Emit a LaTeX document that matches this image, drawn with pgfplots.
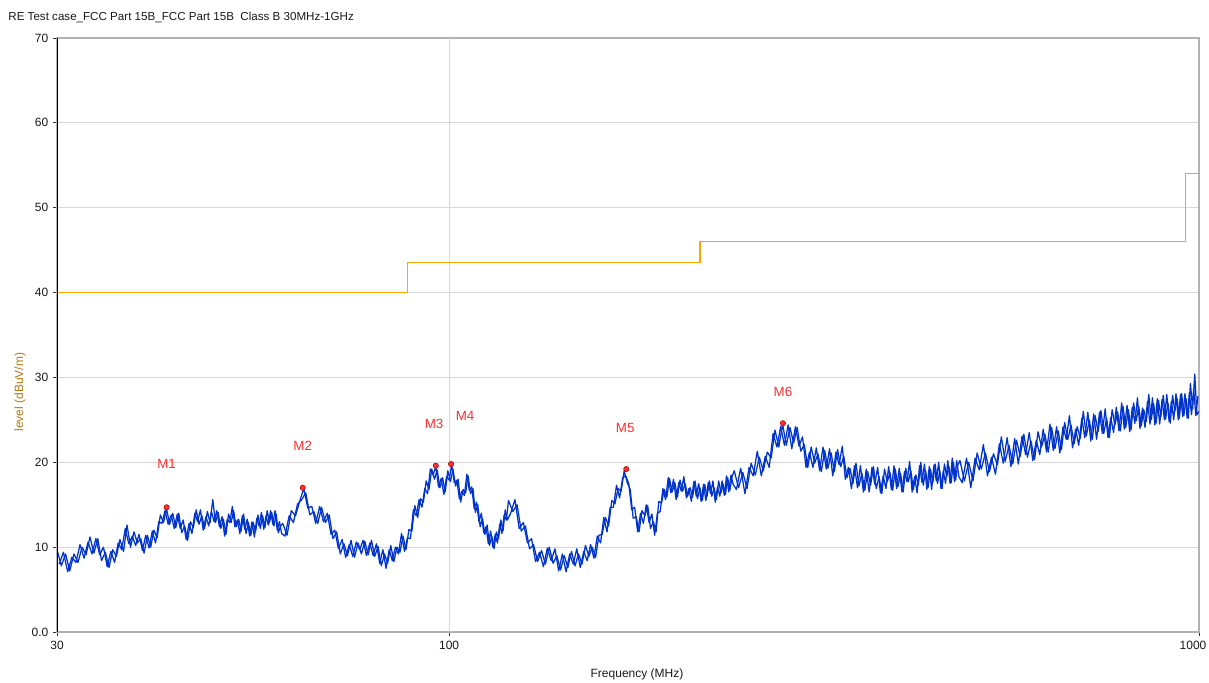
\documentclass[border=0pt]{standalone}
\usepackage{fontspec}
\setmainfont{Liberation Sans}
\usepackage{pgfplots}
\pgfplotsset{compat=1.18}
\definecolor{trace}{RGB}{0,51,204}
\definecolor{limitc}{RGB}{255,165,0}
\definecolor{gridc}{RGB}{215,215,215}
\definecolor{mkred}{RGB}{255,45,45}
\definecolor{ylab}{RGB}{180,120,20}
\pgfplotstableread{
f y
30.0 9.7
30.4 7.8
30.8 9.2
31.2 7.2
31.6 9.2
32.0 8.2
32.4 10.0
32.8 9.1
33.2 11.2
33.6 9.3
34.0 11.0
34.4 8.4
34.8 9.4
35.2 7.6
35.6 9.7
36.0 8.9
36.4 10.9
36.8 9.5
37.2 12.6
37.6 10.0
38.0 11.8
38.4 10.5
38.8 11.0
39.2 9.3
39.6 11.4
40.0 10.0
40.4 12.0
40.8 11.1
41.2 13.8
41.6 12.9
42.0 14.5
42.4 12.7
42.8 14.0
43.2 12.3
43.6 14.0
44.0 11.7
44.4 12.5
44.8 10.8
45.2 13.0
45.6 12.3
46.0 14.4
46.4 12.7
46.8 13.7
47.2 12.2
47.6 14.2
48.0 12.9
48.4 15.6
48.8 12.9
49.2 14.1
49.6 12.2
50.0 13.3
50.4 11.5
50.8 13.9
51.2 12.9
51.6 14.3
52.0 12.4
52.4 13.3
52.8 11.9
53.2 13.9
53.6 11.6
54.0 12.9
54.4 11.4
54.8 12.9
55.2 11.8
55.6 13.8
56.0 12.2
56.4 13.7
56.8 12.3
57.2 14.3
57.6 12.9
58.0 14.1
58.4 12.5
58.8 13.9
59.2 11.7
59.6 12.5
60.0 12.8
60.8 11.4
61.6 14.3
62.4 13.7
63.2 15.4
64.0 16.9
64.8 14.6
65.6 14.8
66.4 12.8
67.2 14.8
68.0 13.0
68.8 14.0
69.6 11.5
70.4 12.0
71.2 9.8
72.0 10.9
72.8 8.8
73.6 10.3
74.4 8.9
75.2 10.6
76.0 9.7
76.8 10.8
77.6 9.0
78.4 10.5
79.2 9.0
80.0 10.4
80.8 8.1
81.6 9.7
82.4 7.5
83.2 9.7
84.0 8.4
84.8 10.0
85.6 9.2
86.4 11.6
87.2 9.5
88.0 11.1
88.8 11.0
89.6 14.4
90.4 13.7
91.2 15.6
92.0 14.7
92.8 16.9
93.6 16.3
94.4 19.2
95.2 18.5
96.0 19.5
96.8 17.1
97.6 18.1
98.4 16.2
99.2 18.3
100.0 17.9
100.8 19.7
101.6 17.6
102.4 17.9
103.2 15.7
104.0 16.6
104.8 16.1
105.6 18.6
106.4 16.7
107.2 17.1
108.0 14.5
108.8 15.3
109.6 13.0
110.4 14.0
111.2 11.7
112.0 12.4
112.8 10.4
113.6 11.9
114.4 10.0
115.2 11.5
116.0 10.5
116.8 12.7
117.6 11.6
118.4 13.8
119.2 13.2
120.0 15.5
121.6 14.2
123.2 15.0
124.8 11.9
126.4 12.5
128.0 9.8
129.6 10.3
131.2 8.3
132.8 9.6
134.4 8.0
136.0 10.0
137.6 8.1
139.2 9.0
140.8 7.3
142.4 9.0
144.0 7.6
145.6 9.5
147.2 7.8
148.8 9.2
150.4 8.0
152.0 10.2
153.6 8.9
155.2 10.0
156.8 8.8
158.4 11.4
160.0 11.5
161.6 13.5
163.2 12.5
164.8 15.5
166.4 15.1
168.0 16.9
169.6 16.6
171.2 19.0
172.8 17.6
174.4 16.8
176.0 13.4
177.6 13.6
179.2 11.8
180.8 14.3
182.4 13.7
184.0 14.9
185.6 12.2
187.2 13.0
188.8 11.8
190.4 15.4
192.0 15.2
193.6 16.8
195.2 15.9
196.8 18.1
198.4 16.5
200.0 17.6
201.6 15.9
203.2 17.9
204.8 16.6
206.4 17.5
208.0 16.0
209.6 17.0
211.2 15.9
212.8 17.8
214.4 15.7
216.0 17.0
217.6 15.5
219.2 17.4
220.8 16.0
222.4 17.8
224.0 16.0
225.6 17.0
227.2 15.6
228.8 17.8
230.4 16.4
232.0 17.4
233.6 16.2
235.2 18.2
236.8 16.7
238.4 18.3
240.0 19.0
243.2 17.0
246.4 18.8
249.6 16.9
252.8 19.9
256.0 18.5
259.2 20.6
262.4 19.0
265.6 21.2
268.8 20.5
272.0 23.8
275.2 21.8
278.4 24.5
281.6 22.0
284.8 24.1
288.0 22.3
291.2 24.1
294.4 21.3
297.6 22.1
300.8 19.4
304.0 21.8
307.2 19.9
310.4 21.0
313.6 18.9
316.8 21.4
320.0 19.3
323.2 21.1
326.4 18.9
329.6 21.5
332.8 19.5
336.0 20.7
339.2 18.2
342.4 19.3
345.6 17.5
348.8 19.9
352.0 17.2
355.2 18.7
358.4 16.7
361.6 18.9
364.8 17.3
368.0 19.5
371.2 16.9
374.4 18.3
377.6 16.3
380.8 19.2
384.0 17.7
387.2 18.8
390.4 16.7
393.6 19.2
396.8 17.1
400.0 18.7
403.2 16.5
406.4 19.3
409.6 17.7
412.8 19.0
416.0 16.8
419.2 18.5
422.4 17.3
425.6 20.0
428.8 17.3
432.0 19.0
435.2 17.0
438.4 19.2
441.6 17.6
444.8 19.8
448.0 17.5
451.2 19.0
454.4 16.9
457.6 19.8
460.8 18.3
464.0 19.5
467.2 17.6
470.4 20.0
473.6 17.9
476.8 19.7
480.0 20.2
486.5 17.8
493.0 20.0
499.5 17.8
506.0 21.1
512.5 19.2
519.0 21.1
525.5 18.9
532.0 21.0
538.5 19.7
545.0 23.0
551.5 20.1
558.0 22.0
564.5 19.8
571.0 22.6
577.5 20.7
584.0 23.3
590.5 20.6
597.0 22.5
603.5 20.3
610.0 23.6
616.5 21.8
623.0 23.3
629.5 21.2
636.0 24.1
642.5 21.6
649.0 23.7
655.5 21.5
662.0 24.7
668.5 22.7
675.0 24.4
681.5 22.2
688.0 24.2
694.5 22.8
701.0 26.0
707.5 23.1
714.0 25.0
720.5 22.7
727.0 25.5
733.5 23.6
740.0 26.1
746.5 23.4
753.0 25.2
759.5 22.9
766.0 26.2
772.5 24.4
779.0 25.9
785.5 23.7
792.0 26.6
798.5 24.1
805.0 26.2
811.5 23.8
818.0 27.0
824.5 24.9
831.0 26.6
837.5 24.3
844.0 26.2
850.5 24.8
857.0 28.0
863.5 25.0
870.0 26.9
876.5 24.6
883.0 27.3
889.5 25.4
896.0 27.9
902.5 25.1
909.0 27.0
915.5 24.6
922.0 27.9
928.5 26.0
935.0 27.5
941.5 25.2
948.0 28.1
954.5 25.5
961.0 27.5
967.5 25.2
974.0 29.3
980.5 26.3
987.0 30.4
993.5 25.6
1000 26.0
}\traceA
\pgfplotstableread{
f y
30.2 8.0
30.6 9.4
31.0 7.1
31.4 8.8
31.8 8.2
32.2 10.3
32.6 8.7
33.0 10.6
33.4 9.2
33.8 11.0
34.2 9.1
34.6 10.0
35.0 7.7
35.4 9.5
35.8 8.2
36.2 10.5
36.6 9.7
37.0 12.2
37.4 10.4
37.8 11.3
38.2 10.2
38.6 11.5
39.0 9.6
39.4 11.4
39.8 9.9
40.2 11.9
40.6 10.5
41.0 13.0
41.4 12.8
41.8 14.3
42.2 12.7
42.6 13.8
43.0 12.2
43.4 13.9
43.8 12.2
44.2 13.2
44.6 10.9
45.0 12.8
45.4 11.6
45.8 14.0
46.2 13.0
46.6 14.4
47.0 12.0
47.4 13.6
47.8 12.5
48.2 14.2
48.6 13.0
49.0 14.3
49.4 12.4
49.8 13.6
50.2 11.3
50.6 13.3
51.0 12.9
51.4 14.8
51.8 12.4
52.2 13.2
52.6 11.6
53.0 13.7
53.4 12.1
53.8 13.3
54.2 11.3
54.6 13.0
55.0 11.2
55.4 13.4
55.8 12.5
56.2 14.1
56.6 12.1
57.0 13.7
57.4 12.6
57.8 14.3
58.2 12.7
58.6 14.3
59.0 12.0
59.4 13.0
59.8 11.6
60.4 11.3
61.2 13.7
62.0 12.9
62.8 15.1
63.6 15.6
64.4 16.4
65.2 13.8
66.0 14.2
66.8 12.8
67.6 14.7
68.4 12.9
69.2 13.8
70.0 11.0
70.8 11.8
71.6 9.2
72.4 10.4
73.2 9.0
74.0 10.8
74.8 8.8
75.6 10.5
76.4 9.2
77.2 10.7
78.0 9.1
78.8 10.8
79.6 8.9
80.4 10.1
81.2 7.8
82.0 9.2
82.8 8.1
83.6 10.2
84.4 8.3
85.2 10.0
86.0 9.4
86.8 11.3
87.6 9.7
88.4 12.1
89.2 11.9
90.0 14.9
90.8 13.5
91.6 15.7
92.4 15.3
93.2 17.8
94.0 16.8
94.8 19.2
95.6 18.0
96.4 19.1
97.2 17.0
98.0 18.2
98.8 16.5
99.6 19.0
100.4 17.7
101.2 19.2
102.0 17.2
102.8 18.0
103.6 15.3
104.4 16.8
105.2 16.4
106.0 18.4
106.8 16.3
107.6 16.9
108.4 14.1
109.2 15.0
110.0 12.4
110.8 13.4
111.6 11.5
112.4 12.6
113.2 10.2
114.0 11.3
114.8 9.8
115.6 11.8
116.4 11.0
117.2 13.2
118.0 11.9
118.8 14.4
119.6 13.2
120.8 14.0
122.4 15.6
124.0 12.2
125.6 12.9
127.2 10.5
128.8 11.0
130.4 8.3
132.0 9.4
133.6 7.7
135.2 9.9
136.8 8.4
138.4 9.8
140.0 7.2
141.6 9.2
143.2 7.1
144.8 9.2
146.4 8.0
148.0 9.8
149.6 7.6
151.2 9.5
152.8 8.4
154.4 10.3
156.0 8.7
157.6 11.3
159.2 10.5
160.8 13.5
162.4 11.8
164.0 14.7
165.6 14.7
167.2 17.3
168.8 15.8
170.4 18.2
172.0 18.4
173.6 17.5
175.2 14.4
176.8 14.7
178.4 11.8
180.0 14.0
181.6 12.8
183.2 15.0
184.8 12.9
186.4 13.9
188.0 11.4
189.6 14.0
191.2 14.2
192.8 16.9
194.4 15.6
196.0 18.2
197.6 16.4
199.2 18.0
200.8 15.6
202.4 17.6
204.0 16.6
205.6 18.3
207.2 15.8
208.8 16.9
210.4 15.4
212.0 17.7
213.6 16.0
215.2 17.5
216.8 15.4
218.4 17.4
220.0 15.5
221.6 17.6
223.2 16.3
224.8 17.8
226.4 15.3
228.0 17.1
229.6 16.0
231.2 17.8
232.8 16.1
234.4 18.4
236.0 16.5
237.6 18.5
239.2 17.4
241.6 16.8
244.8 19.3
248.0 16.3
251.2 19.4
254.4 18.4
257.6 21.3
260.8 18.4
264.0 20.7
267.2 19.4
270.4 23.4
273.6 21.8
276.8 24.2
280.0 22.0
283.2 24.4
286.4 21.6
289.6 24.2
292.8 21.9
296.0 23.0
299.2 19.4
302.4 21.2
305.6 19.4
308.8 21.7
312.0 19.0
315.2 21.8
318.4 19.2
321.6 21.6
324.8 18.4
328.0 21.2
331.2 19.7
334.4 21.9
337.6 18.0
340.8 19.4
344.0 16.9
347.2 19.6
350.4 17.0
353.6 19.6
356.8 16.5
360.0 19.2
363.2 16.5
366.4 19.4
369.6 17.4
372.8 19.4
376.0 16.4
379.2 18.4
382.4 16.9
385.6 19.5
388.8 16.8
392.0 19.6
395.2 16.9
398.4 19.3
401.6 16.5
404.8 18.9
408.0 17.7
411.2 20.1
414.4 16.5
417.6 18.3
420.8 16.4
424.0 19.6
427.2 17.6
430.4 19.8
433.6 16.8
436.8 19.5
440.0 16.8
443.2 19.7
446.4 17.8
449.6 20.0
452.8 16.9
456.0 19.0
459.2 17.5
462.4 20.2
465.6 17.5
468.8 20.5
472.0 17.7
475.2 20.2
478.4 18.3
483.25 17.6
489.75 20.5
496.25 17.0
502.75 20.5
509.25 19.1
515.75 22.1
522.25 18.4
528.75 20.6
535.25 18.6
541.75 22.2
548.25 19.9
554.75 22.9
561.25 19.5
567.75 22.8
574.25 19.8
580.75 23.1
587.25 20.9
593.75 23.5
600.25 20.2
606.75 22.6
613.25 20.9
619.75 23.9
626.25 21.2
632.75 24.5
639.25 21.4
645.75 24.2
652.25 21.1
658.75 24.2
665.25 22.7
671.75 25.5
678.25 21.7
684.75 23.9
691.25 22.0
697.75 25.2
704.25 22.9
710.75 25.9
717.25 22.5
723.75 25.7
730.25 22.7
736.75 25.9
743.25 23.4
749.75 26.3
756.25 22.9
762.75 25.3
769.25 23.5
775.75 26.5
782.25 23.7
788.75 27.0
795.25 23.9
801.75 26.7
808.25 23.6
814.75 26.5
821.25 24.6
827.75 27.6
834.25 24.0
840.75 26.4
847.25 24.1
853.75 27.2
860.25 24.5
866.75 27.6
873.25 24.4
879.75 27.5
886.25 24.5
892.75 27.4
899.25 25.0
905.75 28.0
912.25 24.8
918.75 27.2
925.25 25.0
931.75 28.1
938.25 25.0
944.75 28.0
951.25 25.4
957.75 28.1
964.25 25.2
970.75 28.2
977.25 25.6
983.75 28.6
990.25 25.5
996.75 27.8
}\traceB
\begin{document}
\begin{tikzpicture}[font=\fontsize{9}{11}\selectfont]
\path[use as bounding box] (-42.75pt,-37.5pt) rectangle (864pt,474pt);
\begin{axis}[
  at={(0,0)}, anchor=south west,
  scale only axis, width=856.5pt, height=445.5pt,
  xmode=log, log basis x=10, xmin=30, xmax=1000, ymin=0, ymax=70,
  xtick={30,100,1000}, xticklabels={30,100,{\kern-9pt 1000}}, xminorticks=false,
  ytick={0,10,20,30,40,50,60,70}, yticklabels={0.0,10,20,30,40,50,60,70},
  xtick pos=bottom, ytick pos=left,
  tick align=outside, major tick length=3pt,
  ymajorgrids, grid style={gridc, line width=0.9pt},
  axis line style={gray!60, line width=0.8pt},
  tick style={black!80, line width=0.6pt},
  ticklabel style={black!90, font=\fontsize{9}{11}\selectfont},
]
\draw[gridc, line width=0.6pt] (axis cs:100,0) -- (axis cs:100,70);
\addplot[limitc, line width=0.9pt] coordinates {(30,40) (88,40) (88,43.5) (216,43.5) (216,46) (960,46) (960,54) (1000,54)};
\addplot[trace, line width=0.95pt, line join=round] table {\traceA};
\addplot[trace, line width=0.95pt, line join=round] table {\traceB};
\addplot[only marks, mark=*, mark size=2pt, mark options={fill=mkred, draw=red!70!black, line width=0.4pt}] coordinates {(42.0,14.7) (63.8,17.0) (96.0,19.6) (100.6,19.8) (172.3,19.2) (278.7,24.6)};
\draw[black, line width=0.9pt] (rel axis cs:0,0) -- (rel axis cs:0,1);
\node[text=mkred, font=\fontsize{10}{12}\selectfont] at (axis cs:42.0,19.8) {M1};
\node[text=mkred, font=\fontsize{10}{12}\selectfont] at (axis cs:63.8,21.9) {M2};
\node[text=mkred, font=\fontsize{10}{12}\selectfont] at (axis cs:95.5,24.5) {M3};
\node[text=mkred, font=\fontsize{10}{12}\selectfont] at (axis cs:105.0,25.5) {M4};
\node[text=mkred, font=\fontsize{10}{12}\selectfont] at (axis cs:171.7,24.0) {M5};
\node[text=mkred, font=\fontsize{10}{12}\selectfont] at (axis cs:278.7,28.3) {M6};
\end{axis}
\node[anchor=west, text=black!90, font=\fontsize{8.7}{10.5}\selectfont] at (-40pt,461.25pt) {RE Test case\_FCC Part 15B\_FCC Part 15B\ \ Class B 30MHz-1GHz};
\node[rotate=90, text=ylab] at (-27.75pt,180pt) {level (dBuV/m)};
\node[text=black!90] at (435pt,-31.5pt) {Frequency (MHz)};
\end{tikzpicture}
\end{document}
